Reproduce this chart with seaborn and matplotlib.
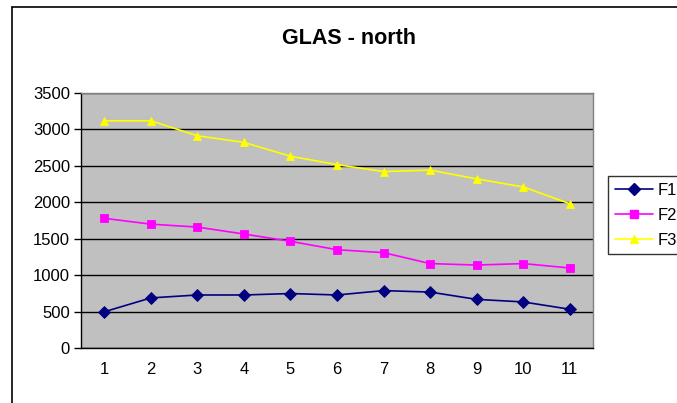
import matplotlib
matplotlib.use("Agg")
import matplotlib.pyplot as plt
import numpy as np
import pandas as pd
import seaborn as sns

# données
categories = [str(i) for i in range(1, 12)]
f1 = [500, 690, 730, 730, 750, 730, 790, 770, 670, 635, 535]
f2 = [1780, 1700, 1660, 1565, 1465, 1350, 1310, 1160, 1140, 1160, 1100]
f3 = [3115, 3115, 2910, 2820, 2630, 2515, 2420, 2440, 2320, 2210, 1980]
series_names = ["F1", "F2", "F3"]
y_ticks = [0, 500, 1000, 1500, 2000, 2500, 3000, 3500]

df = pd.DataFrame({
    "pos": list(range(len(categories))) * 3,
    "value": f1 + f2 + f3,
    "series": [s for s in series_names for _ in categories],
})

sns.set_style("white")
plt.rcParams["font.family"] = ["Liberation Sans", "DejaVu Sans"]
plt.rcParams["text.color"] = "black"
plt.rcParams["xtick.color"] = "black"
plt.rcParams["ytick.color"] = "black"
plt.rcParams["xtick.labelcolor"] = "black"
plt.rcParams["ytick.labelcolor"] = "black"

fig = plt.figure(figsize=(6.77, 4.03), dpi=100)
ax = fig.add_axes([81 / 677, 1 - 348.3 / 403, 512 / 677, 255.6 / 403])
ax.set_facecolor("#C0C0C0")

palette = {"F1": "#000080", "F2": "#FF00FF", "F3": "#FFFF00"}
markers = {"F1": "D", "F2": "s", "F3": "^"}
sns.lineplot(data=df, x="pos", y="value", hue="series", style="series",
             palette=palette, markers=markers, dashes=False, ax=ax,
             markersize=6, markeredgewidth=0, linewidth=1.2, legend=False)
for line in ax.lines:
    line.set_markeredgecolor(line.get_color())
    line.set_markeredgewidth(0.6)

# axes
ax.set_ylim(0, 3500)
ax.set_yticks(y_ticks)
ax.set_yticklabels([str(v) for v in y_ticks], fontsize=12, color="black")
ax.yaxis.grid(True, color="black", linewidth=1)
ax.set_axisbelow(True)
ax.set_xlim(-0.5, len(categories) - 0.5)
ax.set_xticks(np.arange(-0.5, len(categories), 1.0))
ax.set_xticklabels([])
ax.set_xticks(range(len(categories)), minor=True)
ax.set_xticklabels(categories, minor=True, fontsize=12, color="black")
ax.tick_params(axis="x", which="major", direction="out", length=6, width=1, color="black")
ax.tick_params(axis="x", which="minor", length=0, pad=10)
ax.tick_params(axis="y", direction="out", length=5, width=1, color="black", pad=3, left=True)
ax.set_xlabel("")
ax.set_ylabel("")
for side in ["left", "bottom"]:
    ax.spines[side].set_color("black")
    ax.spines[side].set_linewidth(1)
for side in ["top", "right"]:
    ax.spines[side].set_color("#808080")
    ax.spines[side].set_linewidth(1)

fig.text(349 / 677, 1 - 38 / 403, "GLAS - north", ha="center", va="center",
         fontsize=15.5, fontweight="bold", color="black")

# légende
handles = [plt.Line2D([], [], color=palette[s], marker=markers[s], markersize=6,
                      markeredgecolor=palette[s], linewidth=1.2) for s in series_names]
leg = fig.legend(handles, series_names, loc="upper left",
                 bbox_to_anchor=(608 / 677, 1 - 176 / 403), fontsize=12,
                 frameon=True, fancybox=False, handlelength=2.3, handletextpad=0.3,
                 labelspacing=0.6, borderpad=0.4, borderaxespad=0)
leg.get_frame().set_edgecolor("black")
leg.get_frame().set_linewidth(1)
for t in leg.get_texts():
    t.set_color("black")

# cadre du graphique
fig.add_artist(plt.Line2D([12 / 677, 12 / 677], [1 - 7 / 403, 0], color="black",
                          linewidth=1.2, transform=fig.transFigure))
fig.add_artist(plt.Line2D([12 / 677, 1], [1 - 7 / 403, 1 - 7 / 403], color="black",
                          linewidth=1.2, transform=fig.transFigure))

fig.savefig("out.png", dpi=100)
